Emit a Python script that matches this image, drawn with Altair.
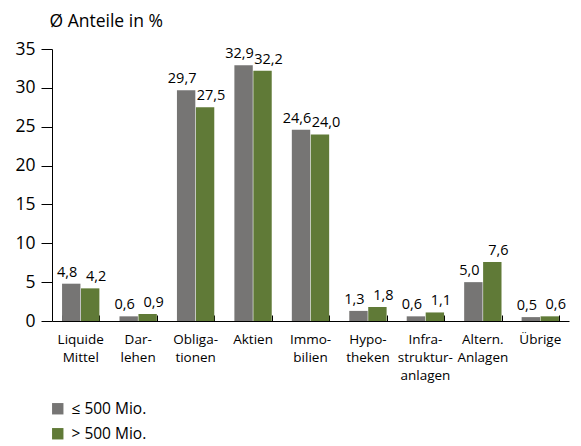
import altair as alt
import pandas as pd

categories = ["Liquide|Mittel", "Dar-|lehen", "Obliga-|tionen", "Aktien", "Immo-|bilien",
              "Hypo-|theken", "Infra-|struktur-|anlagen", "Altern.|Anlagen", "Übrige"]
series_names = ["≤ 500 Mio.", "> 500 Mio."]
small_values = [4.8, 0.6, 29.7, 32.9, 24.6, 1.3, 0.6, 5.0, 0.5]
large_values = [4.2, 0.9, 27.5, 32.2, 24.0, 1.8, 1.1, 7.6, 0.6]
colors = ["#767574", "#607a37"]

rows = []
for c, a, b in zip(categories, small_values, large_values):
    rows.append({"cat": c, "series": series_names[0], "value": a, "label": f"{a:.1f}".replace(".", ",")})
    rows.append({"cat": c, "series": series_names[1], "value": b, "label": f"{b:.1f}".replace(".", ",")})
df = pd.DataFrame(rows)

FONT = "Open Sans"
H = 272
xscale = alt.Scale(paddingInner=0.35, paddingOuter=0.175)

x_main = alt.X("cat:N", sort=categories, scale=xscale,
               axis=alt.Axis(title=None, labelAngle=0, labelExpr="split(datum.label, '|')",
                             labelFontSize=13.5, labelColor="black", labelFont=FONT,
                             labelLineHeight=18, labelPadding=11, ticks=False,
                             domainColor="black", labelLimit=200))
x_ticks = alt.X("cat:N", sort=categories, scale=xscale,
                axis=alt.Axis(title=None, orient="top", offset=-H, labels=False, domain=False,
                              tickBand="extent", tickSize=6, tickColor="black"))
x_none = alt.X("cat:N", sort=categories, scale=xscale, axis=None)
xo = alt.XOffset("series:N", sort=series_names, scale=alt.Scale(paddingInner=0.03))
y = alt.Y("value:Q", scale=alt.Scale(domain=[0, 35], nice=False),
          axis=alt.Axis(values=[0, 5, 10, 15, 20, 25, 30, 35], grid=False, labelOverlap=False,
                        labelFontSize=17.5, labelColor="black", labelFont=FONT,
                        tickSize=11, tickColor="black", domainColor="black", labelPadding=6,
                        title="Ø Anteile in %", titleAngle=0, titleAlign="left",
                        titleBaseline="alphabetic", titleX=-3, titleY=-23,
                        titleFontSize=17.5, titleFontWeight="normal", titleFont=FONT,
                        titleColor="black"))
color = alt.Color("series:N", sort=series_names,
                  scale=alt.Scale(domain=series_names, range=colors),
                  legend=alt.Legend(title=None, orient="none", legendX=-2, legendY=352,
                                    direction="vertical", symbolType="square",
                                    symbolSize=130, symbolStrokeWidth=0, symbolOpacity=1,
                                    labelFontSize=15.5, labelFont=FONT, labelColor="black",
                                    rowPadding=8, labelOffset=6))

bars = alt.Chart(df).mark_bar(opacity=1).encode(x=x_main, xOffset=xo, y=y, color=color)


def text_layer(series, dx, xenc):
    return alt.Chart(df).transform_filter(alt.datum.series == series).mark_text(
        baseline="bottom", dy=-4, dx=dx, fontSize=14.5, font=FONT, color="black").encode(
        x=xenc, xOffset=xo, y=y, text="label:N")


texts0 = text_layer(series_names[0], -4, x_ticks)
texts1 = text_layer(series_names[1], 6, x_none)

chart = alt.layer(bars, texts0, texts1).resolve_axis(x="independent").properties(
    width=517, height=H,
    autosize=alt.AutoSizeParams(type="none"),
    padding={"left": 44, "top": 41, "right": 4, "bottom": 124},
).configure_view(stroke=None)

chart.save("out.html", embed_options={"renderer": "svg", "actions": False})
